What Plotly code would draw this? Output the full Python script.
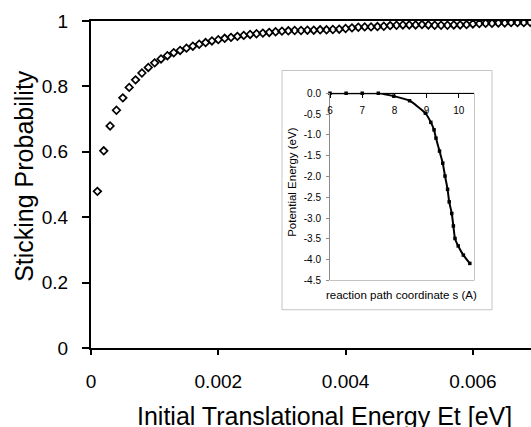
import plotly.graph_objects as go

# ---- main series: sticking probability vs initial translational energy ----
energy_ev = [round(0.0001 * i, 4) for i in range(1, 71)]
sticking_prob = [
    0.479, 0.603, 0.679, 0.727, 0.765, 0.797, 0.820, 0.841, 0.858, 0.872,
    0.884, 0.894, 0.903, 0.910, 0.917, 0.923, 0.929, 0.934, 0.939, 0.943,
    0.947, 0.950, 0.953, 0.956, 0.959, 0.961, 0.963, 0.965, 0.967, 0.969,
    0.970, 0.971, 0.971, 0.972, 0.972, 0.973, 0.973, 0.974, 0.975, 0.977,
    0.979, 0.981, 0.982, 0.982, 0.983, 0.984, 0.986, 0.987, 0.988, 0.988,
    0.988, 0.989, 0.988, 0.987, 0.987, 0.987, 0.988, 0.988, 0.989, 0.991,
    0.992, 0.993, 0.993, 0.994, 0.994, 0.995, 0.995, 0.995, 0.996, 0.996,
]
main_xticks = [0, 0.002, 0.004, 0.006]
main_xticklabels = ["0", "0.002", "0.004", "0.006"]
main_yticks = [0, 0.2, 0.4, 0.6, 0.8, 1]
main_yticklabels = ["0", "0.2", "0.4", "0.6", "0.8", "1"]

# ---- inset series: potential energy along reaction path ----
path_s = [6.0, 6.5, 7.0, 7.5, 7.98, 8.47, 8.96, 9.13, 9.23, 9.29, 9.40,
          9.50, 9.57, 9.65, 9.70, 9.78, 9.83, 9.88, 9.98, 10.14, 10.34]
pot_energy = [0.0, 0.0, 0.0, 0.0, -0.07, -0.18, -0.48, -0.70, -0.88, -1.08,
              -1.39, -1.68, -1.99, -2.31, -2.61, -2.89, -3.19, -3.49, -3.67,
              -3.89, -4.09]
inset_xticks = [6, 7, 8, 9, 10]
inset_yticks = [0.0, -0.5, -1.0, -1.5, -2.0, -2.5, -3.0, -3.5, -4.0, -4.5]
inset_yticklabels = ["0.0", "-0.5", "-1.0", "-1.5", "-2.0", "-2.5", "-3.0",
                     "-3.5", "-4.0", "-4.5"]

FONT = "Liberation Sans, Arial, sans-serif"

W, H = 531, 427
L, T, R = 91, 21, 0
B = H - 348.3
PW = W - L - R
PH = H - T - B


def px_x(px):
    """screen x -> paper x"""
    return (px - L) / PW


def px_y(py):
    """screen y -> paper y"""
    return (H - B - py) / PH


fig = go.Figure()

fig.add_trace(go.Scatter(
    x=energy_ev, y=sticking_prob, mode="markers",
    marker=dict(symbol="diamond-open", size=5.8, color="black",
                line=dict(width=1.7, color="black")),
    cliponaxis=True, showlegend=False, xaxis="x", yaxis="y",
))

fig.add_trace(go.Scatter(
    x=path_s, y=pot_energy, mode="lines+markers",
    line=dict(color="black", width=2, shape="spline", smoothing=0.5),
    marker=dict(symbol="square", size=3.5, color="black"),
    showlegend=False, xaxis="x2", yaxis="y2", cliponaxis=False,
))

inset_top = px_y(93.3)

fig.update_layout(
    template="none",
    width=W, height=H,
    margin=dict(l=L, r=R, t=T, b=B, pad=0, autoexpand=False),
    paper_bgcolor="white", plot_bgcolor="white",
    font=dict(family=FONT, color="black"),
    xaxis=dict(
        range=[0, (531 - 91) / 127.3 * 0.002],
        tickvals=main_xticks, ticktext=main_xticklabels,
        showgrid=False, zeroline=False, automargin=False,
        showline=True, linecolor="black", linewidth=2, mirror=True,
        ticks="outside", ticklen=5, tickwidth=1.5, tickcolor="black",
        tickfont=dict(size=19, family=FONT), ticklabelstandoff=10,
        domain=[0, 1],
    ),
    yaxis=dict(
        range=[0, 1], tickvals=main_yticks, ticktext=main_yticklabels,
        showgrid=False, zeroline=False, automargin=False,
        showline=True, linecolor="black", linewidth=2,
        ticks="outside", ticklen=7, tickwidth=1.5, tickcolor="black",
        tickfont=dict(size=19, family=FONT), ticklabelstandoff=10,
        domain=[0, 1],
    ),
    xaxis2=dict(
        domain=[px_x(330), px_x(474)], anchor="free", position=inset_top,
        side="bottom",
        range=[6, 10.47], tickvals=inset_xticks,
        showgrid=False, zeroline=False, automargin=False,
        showline=True, linecolor="black", linewidth=1.2,
        ticks="outside", ticklen=4, tickwidth=1, tickcolor="black",
        ticklabelstandoff=4,
        tickfont=dict(size=10, family=FONT),
    ),
    yaxis2=dict(
        domain=[px_y(280.7), inset_top], anchor="x2",
        range=[-4.5, 0], tickvals=inset_yticks, ticktext=inset_yticklabels,
        showgrid=False, zeroline=False, automargin=False,
        showline=True, linecolor="#8c8c8c", linewidth=1,
        ticks="outside", ticklen=3, tickwidth=1, tickcolor="#8c8c8c",
        ticklabelstandoff=3,
        tickfont=dict(size=10, family=FONT),
    ),
)

# inset frame and plot-area border
fig.add_shape(type="rect", xref="paper", yref="paper",
              x0=px_x(282), x1=px_x(492), y0=px_y(310), y1=px_y(70.5),
              line=dict(color="#c4c4c4", width=1), fillcolor="white",
              layer="below")
fig.add_shape(type="rect", xref="x2 domain", yref="y2 domain",
              x0=0, x1=1, y0=0, y1=1,
              line=dict(color="#8c8c8c", width=1), layer="below")

# titles
fig.add_annotation(text="Initial Translational Energy Et [eV]",
                   xref="paper", yref="paper", x=px_x(324), y=px_y(416),
                   xanchor="center", yanchor="middle", showarrow=False,
                   font=dict(size=25, family=FONT))
fig.add_annotation(text="Sticking Probability", textangle=-90,
                   xref="paper", yref="paper", x=px_x(24), y=px_y(176),
                   xanchor="center", yanchor="middle", showarrow=False,
                   font=dict(size=25, family=FONT))
fig.add_annotation(text="Potential Energy (eV)", textangle=-90,
                   xref="paper", yref="paper", x=px_x(292), y=px_y(183),
                   xanchor="center", yanchor="middle", showarrow=False,
                   font=dict(size=11.5, family=FONT))
fig.add_annotation(text="reaction path coordinate s (A)",
                   xref="paper", yref="paper", x=px_x(401), y=px_y(295),
                   xanchor="center", yanchor="middle", showarrow=False,
                   font=dict(size=11.5, family=FONT))

fig.write_html(
    "out.html",
    config={"displayModeBar": False},
    post_script="document.body.style.margin='0';"
                "document.body.style.padding='0';"
                "document.body.style.overflow='hidden';"
                "document.documentElement.style.overflow='hidden';",
)
